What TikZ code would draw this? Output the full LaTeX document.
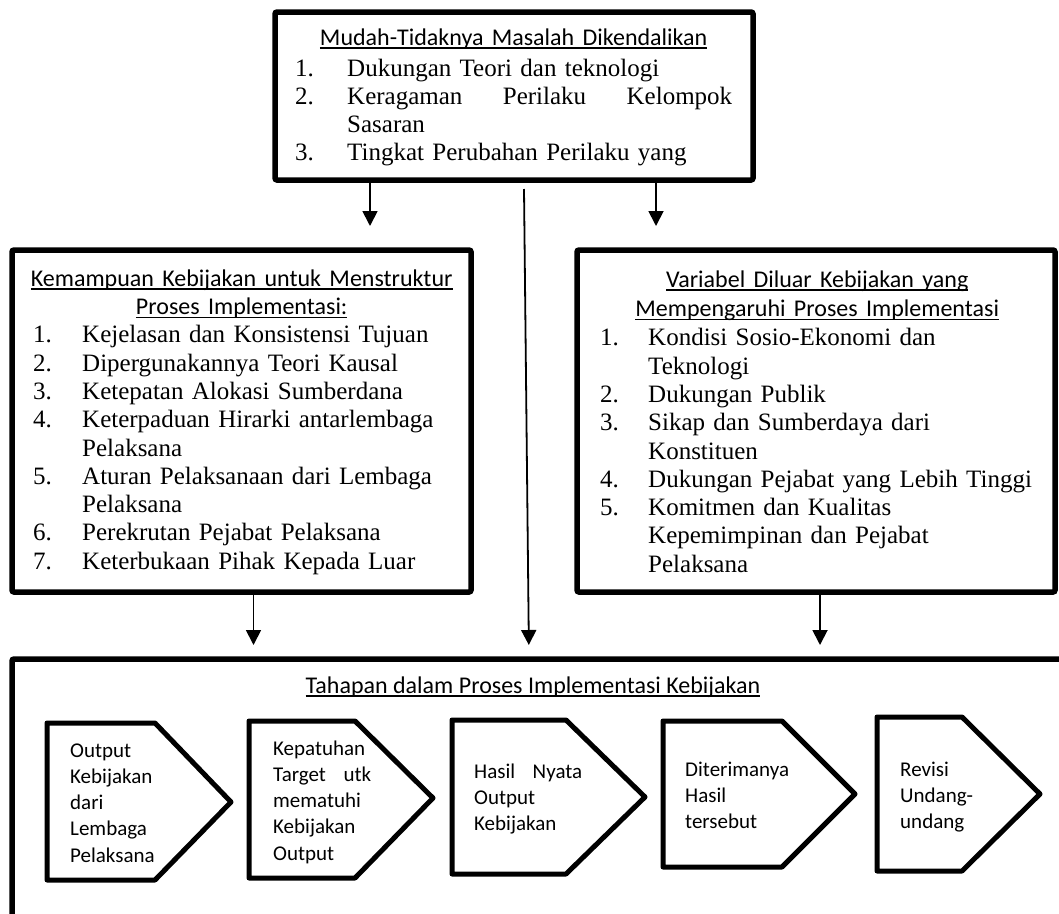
\documentclass[tikz,border=0pt]{standalone}
\usepackage{fontspec}
\setmainfont{Liberation Serif}
\newfontfamily\headfont{Carlito}
\usetikzlibrary{arrows.meta, positioning}

% underlined heading text
\newcommand{\uln}[1]{\sbox0{#1}\rlap{\rule[-3.5pt]{\wd0}{1.4pt}}\usebox0}
\newcommand{\topstrut}{\rule{0pt}{22pt}}
% numbered item and continuation line
\newcommand{\itm}[3][49pt]{\makebox[#1][l]{#2}#3}
\newcommand{\cont}[2][49pt]{\hspace*{#1}#2}

\begin{document}
\begin{tikzpicture}[
  x=1pt, y=-1pt,
  box/.style={draw, line width=5.5pt, rounded corners=2pt, outer sep=0pt, inner sep=0pt},
  list/.style={anchor=north west, inner sep=0pt, align=left, font=\fontsize{25}{28.3}\selectfont},
  stage/.style={draw, line width=5pt, line join=round},
  stagetext/.style={anchor=north west, inner sep=0pt, align=left, font=\headfont\fontsize{21}{26.2}\selectfont},
  arrow/.style={line width=1.8pt, -{Triangle[width=15pt,length=15pt]}}
]
\useasboundingbox (0,0) rectangle (1059,913);
\clip (0,0) rectangle (1059,913);

% boxes
\node[box, minimum width=478pt, minimum height=168pt] (top) at (514,96) {};
\node[box, minimum width=459pt, minimum height=342pt] (lbox) at (241.5,421) {};
\node[box, minimum width=478pt, minimum height=342pt] (rbox) at (816,421) {};
\node[box, anchor=north west, minimum width=1100pt, minimum height=320pt] (bot) at (12,659) {};

% box texts
\node[list, text width=437pt, below right=11pt and 20pt of top.north west] (toptext) {%
  \makebox[437pt]{\headfont\fontsize{24}{28.3}\selectfont\topstrut\uln{Mudah-Tidaknya Masalah Dikendalikan}}\\[2.5pt]
  \itm[52pt]{1.}{Dukungan Teori dan teknologi}\\
  \itm[52pt]{2.}{\makebox[385pt][l]{Keragaman\hfill Perilaku\hfill Kelompok}}\\
  \cont[52pt]{Sasaran}\\
  \itm[52pt]{3.}{Tingkat Perubahan Perilaku yang}};
\node[list, text width=417pt, below right=14pt and 21pt of lbox.north west] (ltext) {%
  \makebox[417pt]{\headfont\fontsize{24}{28.3}\selectfont\topstrut\uln{Kemampuan Kebijakan untuk Menstruktur}}\\
  \makebox[417pt]{\headfont\fontsize{24}{28.3}\selectfont\uln{Proses Implementasi:}}\\
  \itm{1.}{Kejelasan dan Konsistensi Tujuan}\\
  \itm{2.}{Dipergunakannya Teori Kausal}\\
  \itm{3.}{Ketepatan Alokasi Sumberdana}\\
  \itm{4.}{Keterpaduan Hirarki antarlembaga}\\
  \cont{Pelaksana}\\
  \itm{5.}{Aturan Pelaksanaan dari Lembaga}\\
  \cont{Pelaksana}\\
  \itm{6.}{Perekrutan Pejabat Pelaksana}\\
  \itm{7.}{Keterbukaan Pihak Kepada Luar}};
\node[list, text width=460pt, below right=15pt and 23pt of rbox.north west] (rtext) {%
  \makebox[434pt]{\headfont\fontsize{24}{28.3}\selectfont\topstrut\uln{Variabel Diluar Kebijakan yang}}\\[1pt]
  \makebox[434pt]{\headfont\fontsize{24}{28.3}\selectfont\uln{Mempengaruhi Proses Implementasi}}\\[1pt]
  \itm[48pt]{1.}{Kondisi Sosio-Ekonomi dan}\\
  \cont[48pt]{Teknologi}\\
  \itm[48pt]{2.}{Dukungan Publik}\\
  \itm[48pt]{3.}{Sikap dan Sumberdaya dari}\\
  \cont[48pt]{Konstituen}\\
  \itm[48pt]{4.}{Dukungan Pejabat yang Lebih Tinggi}\\
  \itm[48pt]{5.}{Komitmen dan Kualitas}\\
  \cont[48pt]{Kepemimpinan dan Pejabat}\\
  \cont[48pt]{Pelaksana}};
\node[anchor=base, inner sep=0pt, font=\headfont\fontsize{24}{28}\selectfont] (bhead) at (533,693) {\uln{Tahapan dalam Proses Implementasi Kebijakan}};

% stages
\draw[stage] (47,723) -- (155,723) -- (231,802) -- (155,880) -- (47,880) -- cycle;
\draw[stage] (249,721) -- (355,721) -- (433,798) -- (355,878) -- (249,878) -- cycle;
\draw[stage] (452,720) -- (566,720) -- (645,797) -- (566,874) -- (452,874) -- cycle;
\draw[stage] (663,721) -- (782,721) -- (855,794) -- (782,867) -- (663,867) -- cycle;
\draw[stage] (877,717) -- (962,717) -- (1040,794) -- (962,871) -- (877,871) -- cycle;
\node[stagetext] (s1) at (70,737) {\rule{0pt}{20pt}Output\\Kebijakan\\dari\\Lembaga\\Pelaksana};
\node[stagetext] (s2) at (273,735) {\rule{0pt}{20pt}Kepatuhan\\\makebox[98pt][l]{Target\hfill utk}\\mematuhi\\Kebijakan\\Output};
\node[stagetext] (s3) at (474,758) {\rule{0pt}{20pt}\makebox[108pt][l]{Hasil\hfill Nyata}\\Output\\Kebijakan};
\node[stagetext] (s4) at (685,756) {\rule{0pt}{20pt}Diterimanya\\Hasil\\tersebut};
\node[stagetext] (s5) at (900,756) {\rule{0pt}{20pt}Revisi\\Undang-\\undang};

% arrows
\coordinate (mid) at (524,189);
\draw[arrow, shorten >=24pt] ([xshift=-144pt]top.south) -- ([xshift=-144pt]top.south |- lbox.north);
\draw[arrow, shorten >=24pt] ([xshift=142pt]top.south) -- ([xshift=142pt]top.south |- rbox.north);
\draw[arrow, shorten >=14pt] (mid) -- ([xshift=5pt]mid |- bot.north);
\draw[arrow, shorten >=14pt] ([xshift=12pt]lbox.south) -- ([xshift=12pt]lbox.south |- bot.north);
\draw[arrow, shorten >=14pt] ([xshift=4pt]rbox.south) -- ([xshift=4pt]rbox.south |- bot.north);
\end{tikzpicture}
\end{document}
